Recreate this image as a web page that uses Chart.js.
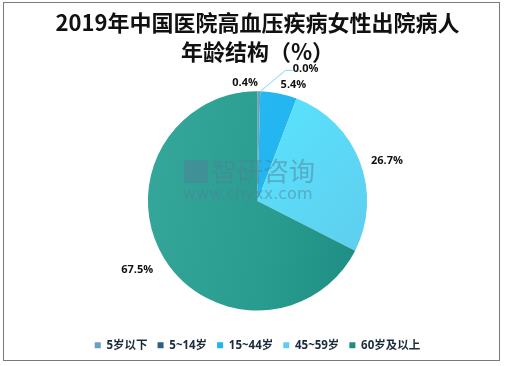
<!DOCTYPE html>
<html>
<head>
<meta charset="utf-8">
<script src="https://cdn.jsdelivr.net/npm/chart.js@4/dist/chart.umd.min.js"></script>
<style>
  html, body { margin: 0; padding: 0; background: #fff; }
  #wrap { width: 505px; height: 366px; }
</style>
</head>
<body>
<div id="wrap"><canvas id="ageChart" width="505" height="366"></canvas></div>
<script>
var titleLines = ["2019年中国医院高血压疾病女性出院病人", "年龄结构（%）"];
var categories = ["5岁以下", "5~14岁", "15~44岁", "45~59岁", "60岁及以上"];
var shares = [0.4, 0.0, 5.4, 26.7, 67.5];

// label nudges for the crowded small slices, in px
var labelNudge = [[-14, 6], [45, -8], [12, 5], [1, 9], [-3, -3]];

function sliceColor(ctx) {
    var chart = ctx.chart;
    var area = chart.chartArea;
    var c = chart.ctx;
    if (!area) return '#3aaf9f';
    var i = ctx.dataIndex;
    var g;
    if (i === 0) return '#6a9fc2';
    if (i === 1) return '#2f5f7f';
    if (i === 2) {
        g = c.createLinearGradient(area.left, area.top, area.right, area.bottom);
        g.addColorStop(0, '#2cc4fa');
        g.addColorStop(1, '#1aa6e4');
        return g;
    }
    if (i === 3) {
        g = c.createLinearGradient(area.left + area.width * 0.5, area.top, area.right, area.bottom);
        g.addColorStop(0, '#58e4ff');
        g.addColorStop(1, '#65bde0');
        return g;
    }
    g = c.createLinearGradient(area.left, area.top + area.height * 0.4, area.right - 20, area.bottom - 40);
    g.addColorStop(0, '#40b2a5');
    g.addColorStop(0.55, '#2a9b8f');
    g.addColorStop(1, '#0f7e76');
    return g;
}

var frame = {
    id: 'frame',
    afterDraw: function (chart) {
        var c = chart.ctx;
        c.save();
        c.strokeStyle = '#7a7a7a';
        c.lineWidth = 1;
        c.strokeRect(3.5, 2.5, 496, 358);
        c.restore();
    }
};

var outLabels = {
    id: 'outLabels',
    afterDatasetsDraw: function (chart) {
        var c = chart.ctx;
        var meta = chart.getDatasetMeta(0);
        c.save();
        c.font = 'bold 11px "Open Sans", "Noto Sans CJK SC", sans-serif';
        c.fillStyle = '#111';
        c.textAlign = 'center';
        c.textBaseline = 'middle';
        meta.data.forEach(function (arc, i) {
            var p = arc.getProps(['x', 'y', 'startAngle', 'endAngle', 'outerRadius'], true);
            var mid = (p.startAngle + p.endAngle) / 2;
            var r = p.outerRadius + 28;
            if (shares[i] < 10) r = p.outerRadius + 14;
            var lx = p.x + Math.cos(mid) * r + labelNudge[i][0];
            var ly = p.y + Math.sin(mid) * r + labelNudge[i][1];
            if (shares[i] === 0) {
                var ex = p.x + Math.cos(mid) * p.outerRadius;
                var ey = p.y + Math.sin(mid) * p.outerRadius;
                c.strokeStyle = '#7fd6f5';
                c.lineWidth = 1;
                c.beginPath();
                c.moveTo(ex, ey);
                c.lineTo(lx - 20, ly + 1);
                c.lineTo(lx - 13, ly + 1);
                c.stroke();
            }
            c.fillText(shares[i].toFixed(1) + '%', lx, ly);
        });
        c.restore();
    }
};

var watermark = {
    id: 'watermark',
    afterDatasetsDraw: function (chart) {
        var c = chart.ctx;
        c.save();
        c.globalAlpha = 0.5;
        c.fillStyle = '#4f7f98';
        c.textAlign = 'left';
        c.textBaseline = 'middle';
        c.fillRect(184, 160, 24, 23);
        c.font = '26px "Noto Sans CJK SC", sans-serif';
        c.fillText('智研咨询', 211, 171);
        c.font = '16px "DejaVu Sans", sans-serif';
        c.fillText('www.chyxx.com', 183, 195);
        c.restore();
    }
};

new Chart(document.getElementById('ageChart'), {
    type: 'pie',
    data: {
        labels: categories,
        datasets: [{
            data: shares,
            backgroundColor: sliceColor,
            borderWidth: 0
        }]
    },
    options: {
        responsive: false,
        animation: false,
        layout: { padding: { top: 0, bottom: 5, left: 10, right: 0 } },
        plugins: {
            title: {
                display: true,
                text: titleLines,
                color: '#111',
                font: { family: '"Noto Sans CJK SC", serif', size: 22, weight: 'bold', lineHeight: 1.28 },
                padding: { top: 9, bottom: 26 }
            },
            subtitle: {
                display: true,
                position: 'bottom',
                text: '',
                weight: 500,
                font: { size: 1, lineHeight: 1 },
                padding: 9
            },
            legend: {
                position: 'bottom',
                weight: 2000,
                labels: {
                    boxWidth: 6,
                    boxHeight: 6,
                    padding: 10,
                    color: '#1c2b3c',
                    font: { family: '"Open Sans", "Noto Sans CJK SC", sans-serif', size: 11.5, weight: 'bold' }
                }
            },
            tooltip: { enabled: false }
        }
    },
    plugins: [outLabels, watermark, frame]
});
</script>
</body>
</html>
